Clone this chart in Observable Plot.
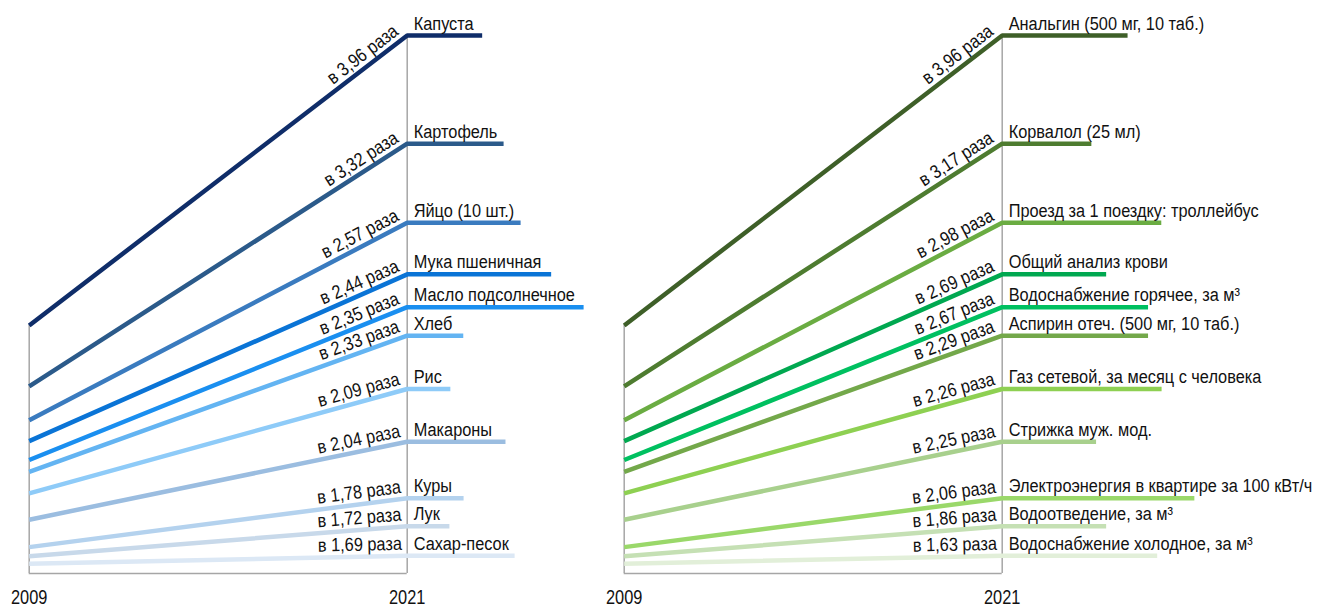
<!DOCTYPE html>
<html><head><meta charset="utf-8">
<script src="https://cdn.jsdelivr.net/npm/d3@7"></script>
<script src="https://cdn.jsdelivr.net/npm/@observablehq/plot@0.6"></script>
<style>
html,body{margin:0;padding:0;background:#fff;}
#wrap{display:flex;flex-direction:row;width:1317px;height:608px;overflow:hidden;}
</style></head><body><div id="wrap"></div>
<script>
// ---- data ----
const years = [2009, 2021];

const foodNames = ["Капуста","Картофель","Яйцо (10 шт.)","Мука пшеничная","Масло подсолнечное","Хлеб","Рис","Макароны","Куры","Лук","Сахар-песок"];
const foodRatios = [3.96,3.32,2.57,2.44,2.35,2.33,2.09,2.04,1.78,1.72,1.69];
const foodLevel2009 = [46.1,34.8,28.5,24.6,21.1,18.9,14.9,10.0,4.9,3.2,1.8];
const foodLevel2021 = [100,79.9,65.2,55.6,49.5,44.2,34.3,24.5,14.0,8.8,3.3];
const foodTailEnd = [2023.38,2024.06,2024.60,2025.57,2026.60,2022.78,2022.37,2024.12,2022.79,2022.34,2024.41];

const serviceNames = ["Анальгин (500 мг, 10 таб.)","Корвалол (25 мл)","Проезд за 1 поездку: троллейбус","Общий анализ крови","Водоснабжение горячее, за м³","Аспирин отеч. (500 мг, 10 таб.)","Газ сетевой, за месяц с человека","Стрижка муж. мод.","Электроэнергия в квартире за 100 кВт/ч","Водоотведение, за м³","Водоснабжение холодное, за м³"];
const serviceRatios = [3.96,3.17,2.98,2.69,2.67,2.29,2.26,2.25,2.06,1.86,1.63];
const serviceLevel2009 = [46.1,34.8,28.5,24.6,21.1,18.9,14.9,10.0,4.9,3.2,1.8];
const serviceLevel2021 = [100,79.9,65.2,55.6,49.5,44.2,34.3,24.5,14.0,8.8,3.3];
const serviceTailEnd = [2024.98,2023.83,2026.05,2024.30,2025.63,2025.63,2026.06,2023.98,2027.10,2024.30,2025.92];

// ---- styles ----
const foodColors = ["#0f2d69","#2b5a8a","#3a7bbf","#0a74d6","#1a8ff0","#63b4f2","#8ecbf8","#9bbde0","#b4d2ee","#c8d9ea","#dce8f5"];
const serviceColors = ["#3e5f28","#4e7c30","#6aac42","#00a850","#00c060","#73a84a","#8ed052","#a8d08d","#9ad86a","#c5e0b4","#e2efd9"];

const H = 608, MT = 35, MB = 35, X0 = 28.7, X1 = 406.7;
const FONT = "'Liberation Sans',Arial,sans-serif";

function panel(names, ratios, l09, l21, tail, colors, width) {
  const rows = names.map((n, i) => ({name: n, ratio: ratios[i], v09: l09[i], v21: l21[i], tail: tail[i], color: colors[i]}));
  const pts = rows.flatMap(r => [
    {name: r.name, x: years[0], y: r.v09, color: r.color},
    {name: r.name, x: years[1], y: r.v21, color: r.color},
    {name: r.name, x: r.tail, y: r.v21, color: r.color}
  ]);
  const pxX = (X1 - X0) / (years[1] - years[0]);
  const pxY = (H - MT - MB) / 100;
  const angle = r => -Math.atan2((r.v21 - r.v09) * pxY, (years[1] - years[0]) * pxX) * 180 / Math.PI;
  const svg = Plot.plot({
    width, height: H,
    marginLeft: X0, marginRight: width - X1, marginTop: MT, marginBottom: MB,
    x: {domain: years},
    y: {domain: [0, 100], axis: null},
    color: {type: "identity"},
    style: {fontFamily: FONT, fontSize: "19px", color: "#111", background: "#fff"},
    marks: [
      Plot.ruleY([0], {x1: years[0], x2: years[1], stroke: "#a6a6a6", strokeWidth: 1.5}),
      Plot.ruleX([years[0]], {y1: 0, y2: d3.max(l09), stroke: "#a6a6a6", strokeWidth: 1.5}),
      Plot.ruleX([years[1]], {y1: 0, y2: d3.max(l21), stroke: "#a6a6a6", strokeWidth: 1.5}),
      Plot.line(pts, {x: "x", y: "y", z: "name", stroke: "color", strokeWidth: 4.5, strokeLinejoin: "miter", strokeLinecap: "butt", curve: "linear"}),
      Plot.text(rows, {x: years[1], y: "v21", text: "name", textAnchor: "start", lineAnchor: "bottom", dx: 6.5, dy: -6, fontSize: 19, fill: "#111", className: "lbl"}),
      Plot.text(rows, {x: years[1], y: "v21", text: r => `в ${r.ratio.toFixed(2).replace(".", ",")} раза`, rotate: angle, textAnchor: "end", lineAnchor: "bottom", fontSize: 19, fill: "#111", className: "ratio"}),
      Plot.axisX({ticks: years, tickSize: 0, tickPadding: 17, tickFormat: d => String(d), fontSize: 19.5, label: null, className: "yr"})
    ]
  });
  svg.querySelectorAll(".ratio text").forEach(t => t.setAttribute("transform", (t.getAttribute("transform") || "") + " translate(-5,-6) scale(0.86,1)"));
  svg.querySelectorAll(".lbl text").forEach(t => { const tr = t.getAttribute("transform"); if (tr) t.setAttribute("transform", tr + " scale(0.86,1)"); });
  svg.querySelectorAll(".yr text").forEach(t => { const tr = t.getAttribute("transform"); if (tr) t.setAttribute("transform", tr + " scale(0.84,1)"); });
  return svg;
}

const wrap = document.getElementById("wrap");
wrap.appendChild(panel(foodNames, foodRatios, foodLevel2009, foodLevel2021, foodTailEnd, foodColors, 595));
wrap.appendChild(panel(serviceNames, serviceRatios, serviceLevel2009, serviceLevel2021, serviceTailEnd, serviceColors, 722));
</script></body></html>
